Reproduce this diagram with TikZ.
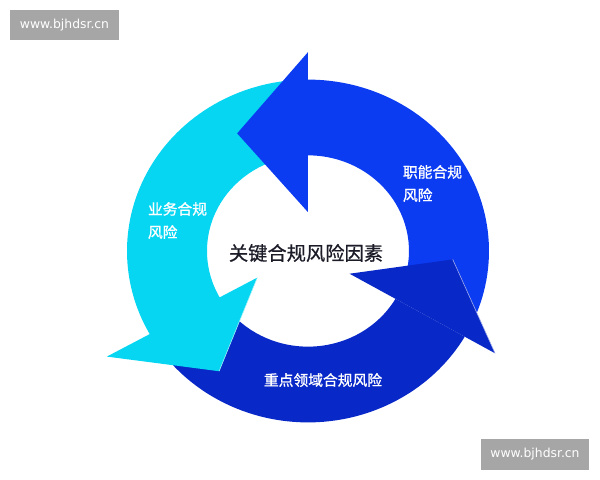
\documentclass[tikz,border=0pt]{standalone}
\usepackage{fontspec}
\setmainfont{Noto Sans CJK SC}
\newfontfamily\labelfont[FakeBold=1.2]{Noto Sans CJK SC}
\newfontfamily\titlefont[FakeBold=0.8]{Noto Sans CJK SC}
\newfontfamily\webfont{DejaVu Sans}
\usepackage{tikz}

\definecolor{riskblue}{RGB}{12,60,242}
\definecolor{risknavy}{RGB}{8,40,200}
\definecolor{riskcyan}{RGB}{6,214,242}
\definecolor{markgray}{RGB}{166,166,166}
\definecolor{titleink}{RGB}{28,28,40}

\begin{document}
\begin{tikzpicture}[x=0.025cm,y=0.025cm,
  risklabel/.style={text=white,font=\labelfont\fontsize{10.5}{16.4}\selectfont,align=left},
  seam/.style={draw=white!65!#1,line width=0.4pt},
  webmark/.style={fill=markgray,text=white,font=\webfont\fontsize{8.8}{10}\selectfont,minimum width=2.72cm,minimum height=0.75cm,inner sep=0pt}]
\useasboundingbox (-308,-229) rectangle (292,251);

\begin{scope}[yscale=0.947]
% ring bodies
\fill[riskblue] (-25:181) arc[start angle=-25,end angle=90,radius=181] -- (90:101) arc[start angle=90,end angle=-25,radius=101] -- cycle;
\fill[riskcyan] (95:181) arc[start angle=95,end angle=210,radius=181] -- (210:101) arc[start angle=210,end angle=95,radius=101] -- cycle;
\fill[risknavy] (215:181) arc[start angle=215,end angle=330,radius=181] -- (330:101) arc[start angle=330,end angle=215,radius=101] -- cycle;
% heads
\fill[riskblue] (90:41) -- (90:210) -- (119.7:143) -- cycle;
\fill[riskcyan] (209:58) -- (209:230) -- (235:155) -- cycle;
\fill[risknavy] (330:48) -- (330:216) -- (356.5:145) -- cycle;
% light seams where a head lies on the next arrow
\draw[seam=riskcyan] (235:155) -- (209:58);
\draw[seam=risknavy] (356.5:145) -- (330:216);
\end{scope}

\node[risklabel,anchor=west] (func) at (90,67.5) {职能合规\\风险};
\node[risklabel,anchor=west] (biz) at (-165,30.5) {业务合规\\风险};
\node[risklabel] (focus) at (15,-129) {重点领域合规风险};
\node[text=titleink,font=\titlefont\fontsize{13.7}{16}\selectfont] (title) at (-2,-2) {关键合规风险因素};

\node[webmark] (marktl) at (-243.5,226) {www.bjhdsr.cn};
\node[webmark] (markbr) at (227,-203.5) {www.bjhdsr.cn};
\end{tikzpicture}
\end{document}
